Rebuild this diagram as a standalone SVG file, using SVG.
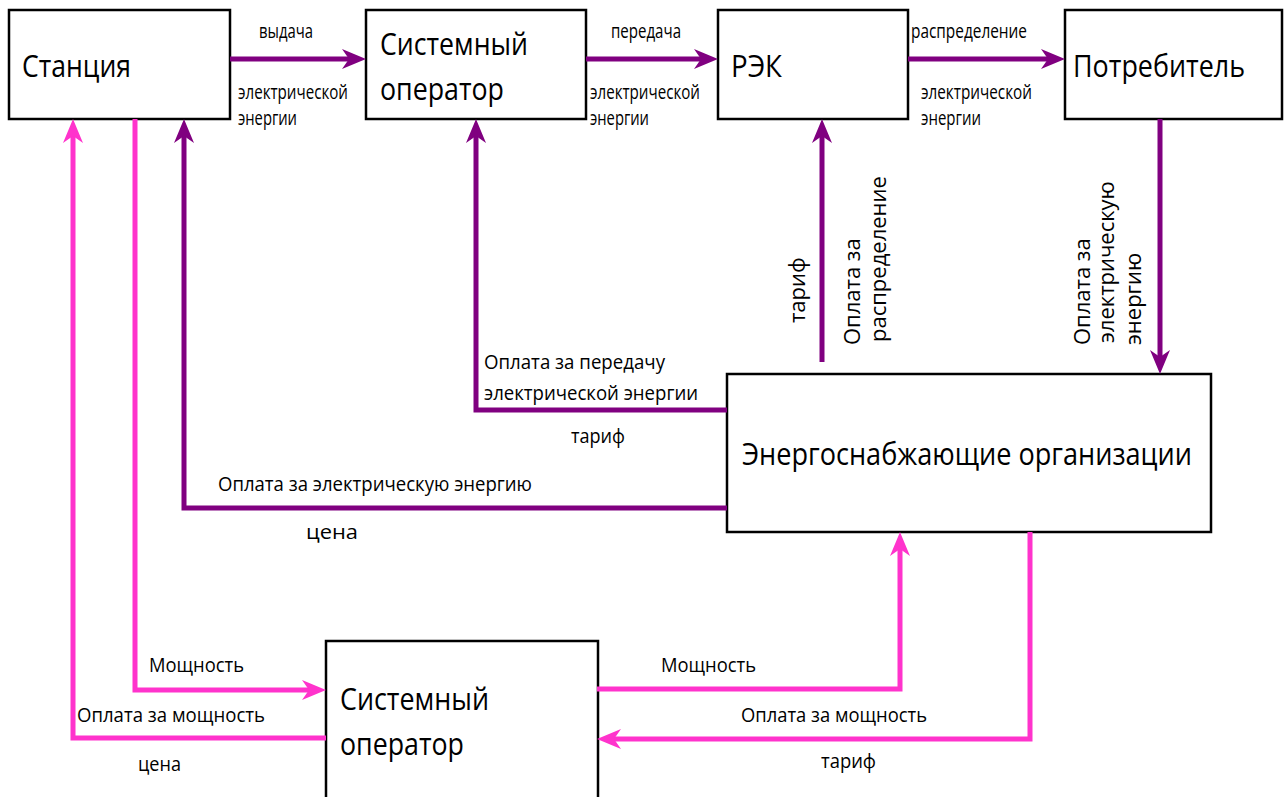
<svg xmlns="http://www.w3.org/2000/svg" width="1287" height="797" viewBox="0 0 1287 797">
<style>
.box{fill:#fff;stroke:#000;stroke-width:2.5}
.big{font-family:"Open Sans","DejaVu Sans",sans-serif;font-size:31px;fill:#000}
.lbl{font-family:"Open Sans","DejaVu Sans",sans-serif;font-size:20px;fill:#000}
.vl{font-family:"Open Sans","DejaVu Sans",sans-serif;font-size:22px;fill:#000}
.pu{fill:none;stroke:#800080;stroke-width:5}
.pk{fill:none;stroke:#ff33cc;stroke-width:5}
</style>
<defs>
<marker id="ap" viewBox="0 0 24 20" refX="16" refY="10" markerWidth="24" markerHeight="20" markerUnits="userSpaceOnUse" orient="auto"><path d="M0,0 L24,10 L0,20 L7,10 Z" fill="#800080"/></marker>
<marker id="ak" viewBox="0 0 24 20" refX="16" refY="10" markerWidth="24" markerHeight="20" markerUnits="userSpaceOnUse" orient="auto"><path d="M0,0 L24,10 L0,20 L7,10 Z" fill="#ff33cc"/></marker>
</defs>
<rect width="1287" height="797" fill="#fff"/>
<g id="n-station"><rect class="box" x="9" y="10" width="221" height="109"/><text class="big" x="22" y="77" textLength="109" lengthAdjust="spacingAndGlyphs">Станция</text></g>
<g id="n-so-top"><rect class="box" x="366" y="10" width="220" height="109"/><text class="big" x="380" y="55" textLength="148" lengthAdjust="spacingAndGlyphs">Системный</text><text class="big" x="380" y="100" textLength="124" lengthAdjust="spacingAndGlyphs">оператор</text></g>
<g id="n-rek"><rect class="box" x="718" y="10" width="190" height="109"/><text class="big" x="731" y="77" textLength="51" lengthAdjust="spacingAndGlyphs">РЭК</text></g>
<g id="n-consumer"><rect class="box" x="1065" y="10" width="217" height="109"/><text class="big" x="1073" y="77" textLength="172" lengthAdjust="spacingAndGlyphs">Потребитель</text></g>
<g id="n-eso"><rect class="box" x="727" y="374" width="484" height="158"/><text class="big" x="742" y="465" textLength="450" lengthAdjust="spacingAndGlyphs">Энергоснабжающие организации</text></g>
<g id="n-so-bottom"><rect class="box" x="326" y="641" width="272" height="170"/><text class="big" x="340" y="710" textLength="149" lengthAdjust="spacingAndGlyphs">Системный</text><text class="big" x="340" y="755" textLength="124" lengthAdjust="spacingAndGlyphs">оператор</text></g>
<g id="connectors">
<path class="pu" d="M230,59 H358" marker-end="url(#ap)"/>
<path class="pu" d="M586,59 H710" marker-end="url(#ap)"/>
<path class="pu" d="M908,59 H1057" marker-end="url(#ap)"/>
<path class="pu" d="M1160,119 V366" marker-end="url(#ap)"/>
<path class="pu" d="M822,362 V127" marker-end="url(#ap)"/>
<path class="pu" d="M727,410 H476 V127" marker-end="url(#ap)"/>
<path class="pu" d="M727,508 H184 V127" marker-end="url(#ap)"/>
<path class="pk" d="M135,119 V690 H318" marker-end="url(#ak)"/>
<path class="pk" d="M326,738 H73 V127" marker-end="url(#ak)"/>
<path class="pk" d="M597,689 H900 V540" marker-end="url(#ak)"/>
<path class="pk" d="M1030,532 V739 H605" marker-end="url(#ak)"/>
</g>
<g id="labels">
<text class="lbl" x="259" y="38" textLength="54" lengthAdjust="spacingAndGlyphs">выдача</text>
<text class="lbl" x="238" y="99" textLength="110" lengthAdjust="spacingAndGlyphs">электрической</text>
<text class="lbl" x="238" y="125" textLength="59" lengthAdjust="spacingAndGlyphs">энергии</text>
<text class="lbl" x="611" y="38" textLength="70" lengthAdjust="spacingAndGlyphs">передача</text>
<text class="lbl" x="590" y="99" textLength="110" lengthAdjust="spacingAndGlyphs">электрической</text>
<text class="lbl" x="590" y="125" textLength="59" lengthAdjust="spacingAndGlyphs">энергии</text>
<text class="lbl" x="911" y="38" textLength="116" lengthAdjust="spacingAndGlyphs">распределение</text>
<text class="lbl" x="921" y="99" textLength="111" lengthAdjust="spacingAndGlyphs">электрической</text>
<text class="lbl" x="921" y="125" textLength="60" lengthAdjust="spacingAndGlyphs">энергии</text>
<text class="lbl" x="484" y="369" textLength="181" lengthAdjust="spacingAndGlyphs">Оплата за передачу</text>
<text class="lbl" x="484" y="400" textLength="214" lengthAdjust="spacingAndGlyphs">электрической энергии</text>
<text class="lbl" x="571" y="443" textLength="54" lengthAdjust="spacingAndGlyphs">тариф</text>
<text class="lbl" x="218" y="491" textLength="314" lengthAdjust="spacingAndGlyphs">Оплата за электрическую энергию</text>
<text class="lbl" x="306" y="539" textLength="52" lengthAdjust="spacingAndGlyphs">цена</text>
<text class="lbl" x="149" y="672" textLength="95" lengthAdjust="spacingAndGlyphs">Мощность</text>
<text class="lbl" x="77" y="722" textLength="188" lengthAdjust="spacingAndGlyphs">Оплата за мощность</text>
<text class="lbl" x="138" y="771" textLength="43" lengthAdjust="spacingAndGlyphs">цена</text>
<text class="lbl" x="661" y="672" textLength="95" lengthAdjust="spacingAndGlyphs">Мощность</text>
<text class="lbl" x="741" y="722" textLength="186" lengthAdjust="spacingAndGlyphs">Оплата за мощность</text>
<text class="lbl" x="821" y="768" textLength="55" lengthAdjust="spacingAndGlyphs">тариф</text>
<text class="vl" transform="translate(805,323) rotate(-90)">тариф</text>
<text class="vl" transform="translate(860,345) rotate(-90)">Оплата за</text>
<text class="vl" transform="translate(886,342) rotate(-90)">распределение</text>
<text class="vl" transform="translate(1090,345) rotate(-90)">Оплата за</text>
<text class="vl" transform="translate(1114,343) rotate(-90)">электрическую</text>
<text class="vl" transform="translate(1141,345) rotate(-90)">энергию</text>
</g>
</svg>
